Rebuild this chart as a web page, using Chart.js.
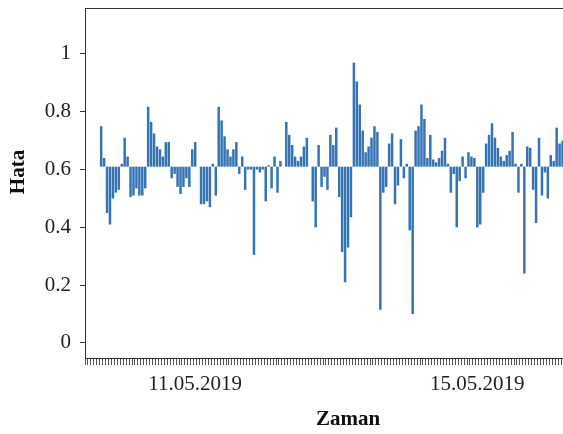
<!DOCTYPE html>
<html>
<head>
<meta charset="utf-8">
<title>Hata</title>
<script src="https://cdn.jsdelivr.net/npm/chart.js@4/dist/chart.umd.min.js"></script>
<style>
  html, body { margin: 0; padding: 0; background: #fff; overflow: hidden; }
  canvas { display: block; }
</style>
</head>
<body>
<canvas id="chart" width="564" height="434"></canvas>
<script>
// Hourly error values, starting 09.05.2019 11:00
const startTime = new Date(2019, 4, 9, 11, 0);
const errorValues = [
  0.61, 0.61, 0.61, 0.61, 0.61, 0.75, 0.64, 0.45, 0.41, 0.50,
  0.52, 0.53, 0.62, 0.71, 0.645, 0.505, 0.51, 0.535, 0.51, 0.51,
  0.535, 0.817, 0.765, 0.725, 0.68, 0.67, 0.645, 0.695, 0.695, 0.57,
  0.585, 0.54, 0.515, 0.54, 0.57, 0.54, 0.67, 0.695, 0.61, 0.48,
  0.48, 0.49, 0.47, 0.62, 0.51, 0.817, 0.77, 0.715, 0.67, 0.645,
  0.67, 0.695, 0.585, 0.645, 0.53, 0.60, 0.60, 0.305, 0.60, 0.59,
  0.60, 0.49, 0.615, 0.535, 0.645, 0.52, 0.63, 0.61, 0.765, 0.72,
  0.685, 0.645, 0.63, 0.645, 0.68, 0.71, 0.61, 0.49, 0.40, 0.685,
  0.54, 0.575, 0.53, 0.72, 0.685, 0.745, 0.505, 0.315, 0.21, 0.33,
  0.435, 0.97, 0.905, 0.825, 0.735, 0.66, 0.68, 0.71, 0.75, 0.73,
  0.115, 0.52, 0.54, 0.69, 0.725, 0.48, 0.545, 0.705, 0.57, 0.62,
  0.39, 0.10, 0.735, 0.75, 0.825, 0.775, 0.64, 0.72, 0.635, 0.625,
  0.64, 0.665, 0.71, 0.62, 0.52, 0.585, 0.40, 0.56, 0.645, 0.57,
  0.66, 0.645, 0.64, 0.40, 0.41, 0.52, 0.69, 0.72, 0.76, 0.71,
  0.675, 0.645, 0.63, 0.65, 0.665, 0.73, 0.62, 0.52, 0.62, 0.24,
  0.68, 0.675, 0.53, 0.415, 0.71, 0.51, 0.59, 0.50, 0.65, 0.63,
  0.745, 0.69, 0.70
];
const baseValue = 0.61;
const dateTickLabels = ['11.05.2019', '15.05.2019'];
const yTickValues = [0, 0.2, 0.4, 0.6, 0.8, 1];

const pad = n => String(n).padStart(2, '0');
const hourCategories = errorValues.map((_, i) => {
  const d = new Date(startTime.getTime() + i * 3600000);
  return pad(d.getDate()) + '.' + pad(d.getMonth() + 1) + '.' + d.getFullYear() +
         ' ' + pad(d.getHours()) + ':00';
});

const serif = '"Liberation Serif", "Times New Roman", serif';
const ink = '#222';

const framePlugin = {
  id: 'frame',
  afterDraw(chart) {
    const { ctx, chartArea } = chart;
    ctx.save();
    ctx.strokeStyle = '#333';
    ctx.lineWidth = 1;
    ctx.beginPath();
    ctx.moveTo(chartArea.left, chartArea.top + 0.5);
    ctx.lineTo(chartArea.right, chartArea.top + 0.5);
    ctx.stroke();

    ctx.fillStyle = '#111';
    ctx.font = 'bold 21px ' + serif;
    ctx.textAlign = 'center';
    ctx.textBaseline = 'middle';
    ctx.fillText('Zaman', 348, 420);

    ctx.translate(19, 172);
    ctx.rotate(-Math.PI / 2);
    ctx.fillText('Hata', 0, 0);
    ctx.restore();
  }
};

new Chart(document.getElementById('chart'), {
  type: 'bar',
  data: {
    labels: hourCategories,
    datasets: [{
      data: errorValues,
      base: baseValue,
      backgroundColor: '#3574b3',
      borderWidth: 0,
      barPercentage: 0.85,
      categoryPercentage: 1.0
    }]
  },
  options: {
    responsive: false,
    animation: false,
    devicePixelRatio: 1,
    layout: { padding: { left: 0, right: 0, top: 8, bottom: 0 } },
    plugins: {
      legend: { display: false },
      tooltip: { enabled: false }
    },
    scales: {
      x: {
        type: 'category',
        offset: true,
        afterFit(scale) {
          scale.height = 76;
          scale.paddingLeft = 0;
          scale.paddingRight = 0;
        },
        border: { display: true, color: '#333', width: 1 },
        grid: {
          display: true,
          drawOnChartArea: false,
          drawTicks: true,
          tickLength: 7,
          color: '#555',
          offset: true
        },
        ticks: {
          autoSkip: false,
          maxRotation: 0,
          minRotation: 0,
          padding: 7,
          color: ink,
          font: { family: serif, size: 21 },
          callback(value) {
            const label = this.getLabelForValue(value);
            const [day, time] = label.split(' ');
            return (time === '00:00' && dateTickLabels.includes(day)) ? day : '';
          }
        }
      },
      y: {
        min: -0.052,
        max: 1.159,
        afterFit(scale) {
          scale.width = 85;
          scale.paddingTop = 0;
          scale.paddingBottom = 0;
        },
        border: { display: true, color: '#333', width: 1 },
        grid: {
          display: true,
          drawOnChartArea: false,
          drawTicks: true,
          tickLength: 5,
          color: '#333'
        },
        ticks: {
          stepSize: 0.2,
          includeBounds: false,
          padding: 9,
          color: ink,
          font: { family: serif, size: 21 },
          callback(value) {
            const v = Math.round(value * 10) / 10;
            return yTickValues.includes(v) ? String(v) : '';
          }
        }
      }
    }
  },
  plugins: [framePlugin]
});
</script>
</body>
</html>
